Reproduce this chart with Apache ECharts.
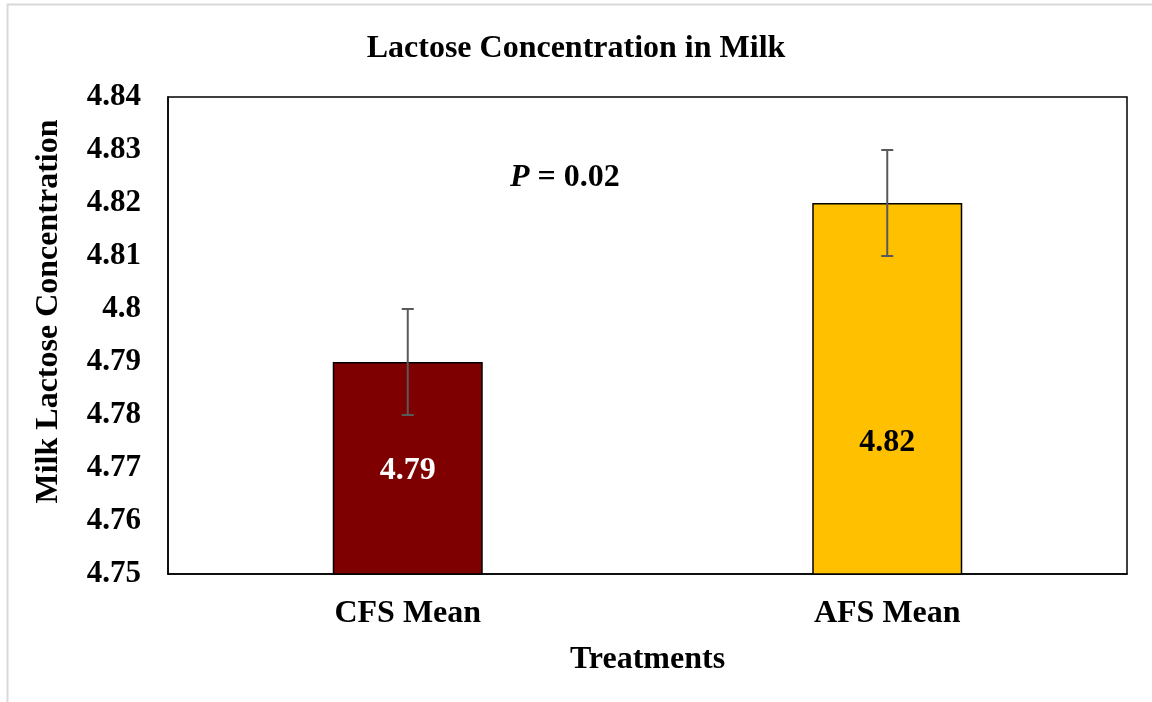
<!DOCTYPE html>
<html>
<head>
<meta charset="utf-8">
<script src="https://cdn.jsdelivr.net/npm/echarts@6/dist/echarts.min.js"></script>
<style>
  html, body { margin: 0; padding: 0; background: #fff; }
  #chart { width: 1152px; height: 702px; }
</style>
</head>
<body>
<div id="chart"></div>
<script>
// Treatment groups and their mean milk lactose concentration
const categories = ['CFS Mean', 'AFS Mean'];
const means = [4.79, 4.82];
const errLow = [4.78, 4.81];
const errHigh = [4.80, 4.83];
const barColors = ['#7f0000', '#ffc000'];
const labelColors = ['#ffffff', '#000000'];
const pValueText = '{i|P} = 0.02';

const serif = '"Liberation Serif", "Times New Roman", serif';
const fs = 32;

const chart = echarts.init(document.getElementById('chart'));

const barData = means.map((v, i) => ({
  value: v,
  itemStyle: { color: barColors[i] },
  label: {
    color: labelColors[i],
    offset: i === 1 ? [0, 54] : [0, 2]
  }
}));

const errData = categories.map((c, i) => [i, errLow[i], errHigh[i]]);

chart.setOption({
  animation: false,
  title: {
    text: 'Lactose Concentration in Milk',
    left: 'center',
    top: 28,
    textStyle: { fontFamily: serif, fontWeight: 'bold', fontSize: fs, color: '#000' }
  },
  graphic: [
    {
      type: 'rect',
      shape: { x: 7.5, y: 4.5, width: 1160, height: 720 },
      style: { fill: 'none', stroke: '#d9d9d9', lineWidth: 2 },
      silent: true
    },
    {
      type: 'text',
      left: 510,
      top: 162,
      style: {
        text: pValueText,
        rich: {
          i: { fontStyle: 'italic', fontWeight: 'bold', fontFamily: serif, fontSize: fs, fill: '#000' }
        },
        fontFamily: serif,
        fontWeight: 'bold',
        fontSize: fs,
        fill: '#000'
      }
    }
  ],
  grid: {
    left: 168, right: 25, top: 97, bottom: 128,
    show: true,
    borderColor: '#000',
    borderWidth: 1.5,
    backgroundColor: 'transparent'
  },
  xAxis: {
    type: 'category',
    data: categories,
    name: 'Treatments',
    nameLocation: 'middle',
    nameGap: 70,
    nameTextStyle: { fontFamily: serif, fontWeight: 'bold', fontSize: fs, color: '#000' },
    axisLine: { show: true, lineStyle: { color: '#000', width: 1.5 } },
    axisTick: { show: false },
    axisLabel: { fontFamily: serif, fontWeight: 'bold', fontSize: fs, color: '#000', margin: 24 }
  },
  yAxis: {
    type: 'value',
    min: 4.75,
    max: 4.84,
    interval: 0.01,
    name: 'Milk Lactose Concentration',
    nameLocation: 'middle',
    nameGap: 103,
    nameTextStyle: { fontFamily: serif, fontWeight: 'bold', fontSize: fs, color: '#000', padding: [0, 0, 0, 48] },
    axisLine: { show: true, lineStyle: { color: '#000', width: 1.5 } },
    axisTick: { show: false },
    splitLine: { show: false },
    axisLabel: {
      fontFamily: serif, fontWeight: 'bold', fontSize: 31, color: '#000', margin: 27,
      formatter: v => String(+v.toFixed(2))
    }
  },
  series: [
    {
      type: 'bar',
      data: barData,
      barWidth: 150,
      itemStyle: { borderColor: '#000', borderWidth: 1.5 },
      label: {
        show: true,
        position: 'inside',
        fontFamily: serif,
        fontWeight: 'bold',
        fontSize: fs,
        formatter: p => p.value.toFixed(2)
      },
      z: 2
    },
    {
      type: 'custom',
      data: errData,
      z: 3,
      renderItem: (params, api) => {
        const x = api.value(0);
        const lo = api.coord([x, api.value(1)]);
        const hi = api.coord([x, api.value(2)]);
        const cap = 6;
        const style = { stroke: '#595959', lineWidth: 2, fill: 'none' };
        return {
          type: 'group',
          children: [
            { type: 'line', shape: { x1: lo[0], y1: lo[1], x2: hi[0], y2: hi[1] }, style },
            { type: 'line', shape: { x1: lo[0] - cap, y1: lo[1], x2: lo[0] + cap, y2: lo[1] }, style },
            { type: 'line', shape: { x1: hi[0] - cap, y1: hi[1], x2: hi[0] + cap, y2: hi[1] }, style }
          ]
        };
      }
    }
  ]
});
</script>
</body>
</html>
